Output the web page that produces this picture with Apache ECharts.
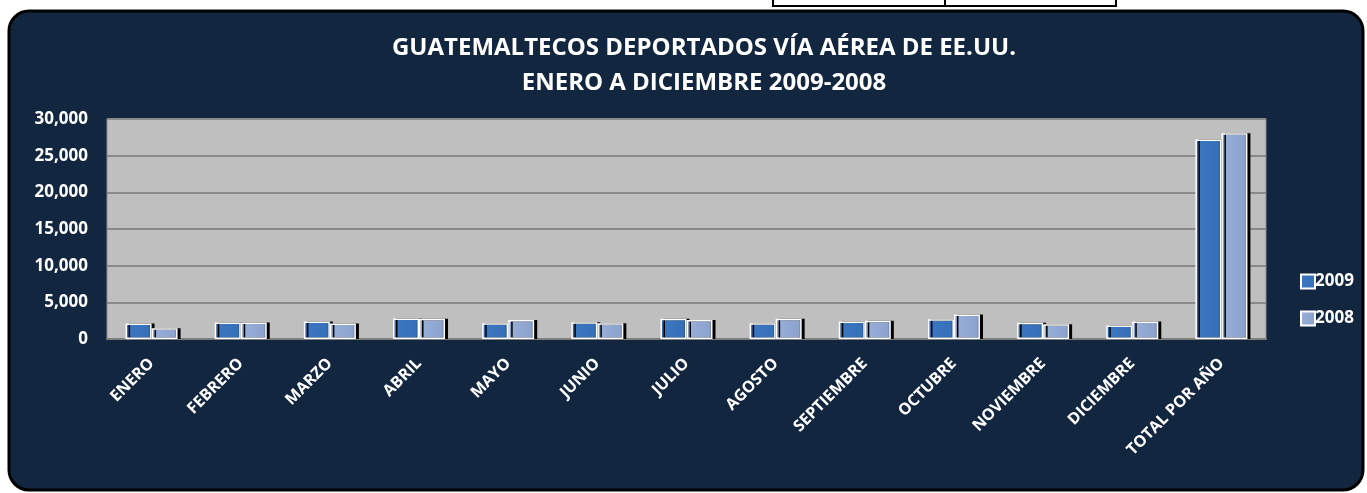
<!DOCTYPE html>
<html lang="es">
<head>
<meta charset="UTF-8">
<title>Deportados vía aérea</title>
<script src="https://cdn.jsdelivr.net/npm/echarts@6/dist/echarts.min.js"></script>
<style>
html,body{margin:0;padding:0;background:#fff;}
#chart{width:1367px;height:493px;}
</style>
</head>
<body>
<div id="chart"></div>
<script>
// datos
var categorias = ['ENERO','FEBRERO','MARZO','ABRIL','MAYO','JUNIO','JULIO','AGOSTO','SEPTIEMBRE','OCTUBRE','NOVIEMBRE','DICIEMBRE','TOTAL POR AÑO'];
var serie2009 = [2100, 2250, 2400, 2800, 2150, 2300, 2750, 2150, 2400, 2700, 2200, 1850, 27200];
var serie2008 = [1450, 2250, 2100, 2750, 2600, 2150, 2600, 2750, 2500, 3350, 2000, 2400, 28050];
var nombres = ['2009', '2008'];

var fuente = '"Open Sans", sans-serif';
var chart = echarts.init(document.getElementById('chart'));

function relleno(a, b, c, d) {
    return new echarts.graphic.LinearGradient(0, 0, 1, 0, [
        {offset: 0, color: a},
        {offset: 0.12, color: b},
        {offset: 0.88, color: c},
        {offset: 1, color: d}
    ]);
}

var estiloBarra = function (colores) {
    return {
        color: relleno.apply(null, colores),
        borderColor: '#ffffff',
        borderWidth: 1.5,
        shadowColor: '#000000',
        shadowBlur: 0,
        shadowOffsetX: 3,
        shadowOffsetY: 0
    };
};

var option = {
    animation: false,
    graphic: [
        // panel oscuro
        {type: 'rect', shape: {x: 9, y: 11, width: 1354, height: 479, r: 20},
         style: {fill: '#13263f', stroke: '#000', lineWidth: 3}, z: -10},
        // restos de tabla arriba
        {type: 'polyline', shape: {points: [[773, 0], [773, 6], [1116, 6], [1116, 0]]},
         style: {stroke: '#000', lineWidth: 2, fill: null}, z: -5},
        {type: 'line', shape: {x1: 945, y1: 0, x2: 945, y2: 6},
         style: {stroke: '#000', lineWidth: 2}, z: -5}
    ],
    title: {
        text: 'GUATEMALTECOS DEPORTADOS VÍA AÉREA DE EE.UU.\nENERO A DICIEMBRE 2009-2008',
        left: 699,
        textAlign: 'center',
        top: 26,
        textStyle: {
            color: '#ffffff',
            fontFamily: fuente,
            fontWeight: 'bold',
            fontSize: 24,
            lineHeight: 35,
            align: 'center'
        }
    },
    legend: {
        data: nombres,
        orient: 'vertical',
        left: 1295,
        top: 268,
        itemWidth: 14,
        itemHeight: 14,
        itemGap: 20,
        icon: 'rect',
        textStyle: {color: '#ffffff', fontFamily: fuente, fontWeight: 'bold', fontSize: 17, padding: [0, 0, 0, -5]}
    },
    grid: {
        left: 107,
        right: 101,
        top: 119,
        bottom: 154,
        show: true,
        backgroundColor: '#bfbfbf',
        borderColor: '#8c8c8c',
        borderWidth: 1
    },
    xAxis: {
        type: 'category',
        data: categorias,
        axisLine: {show: true, lineStyle: {color: '#7f7f7f', width: 2}},
        axisTick: {show: false},
        axisLabel: {
            interval: 0,
            rotate: 45,
            margin: 22,
            color: '#ffffff',
            fontFamily: fuente,
            fontWeight: 'bold',
            fontSize: 16
        }
    },
    yAxis: {
        type: 'value',
        min: 0,
        max: 30000,
        interval: 5000,
        axisLine: {show: false},
        axisTick: {show: false},
        splitLine: {lineStyle: {color: '#8a8a8a', width: 2}},
        axisLabel: {
            margin: 19,
            color: '#ffffff',
            fontFamily: fuente,
            fontWeight: 'bold',
            fontSize: 17,
            formatter: function (v) { return v.toLocaleString('en-US'); }
        }
    },
    series: [
        {
            name: nombres[0],
            type: 'bar',
            data: serie2009,
            barWidth: 26,
            barGap: '0%',
            itemStyle: estiloBarra(['#23487e', '#3b76c0', '#3570b8', '#1f3f6e'])
        },
        {
            name: nombres[1],
            type: 'bar',
            data: serie2008,
            barWidth: 26,
            itemStyle: estiloBarra(['#5f7399', '#97aed8', '#8da3cd', '#54668a'])
        }
    ]
};
chart.setOption(option);
</script>
</body>
</html>
